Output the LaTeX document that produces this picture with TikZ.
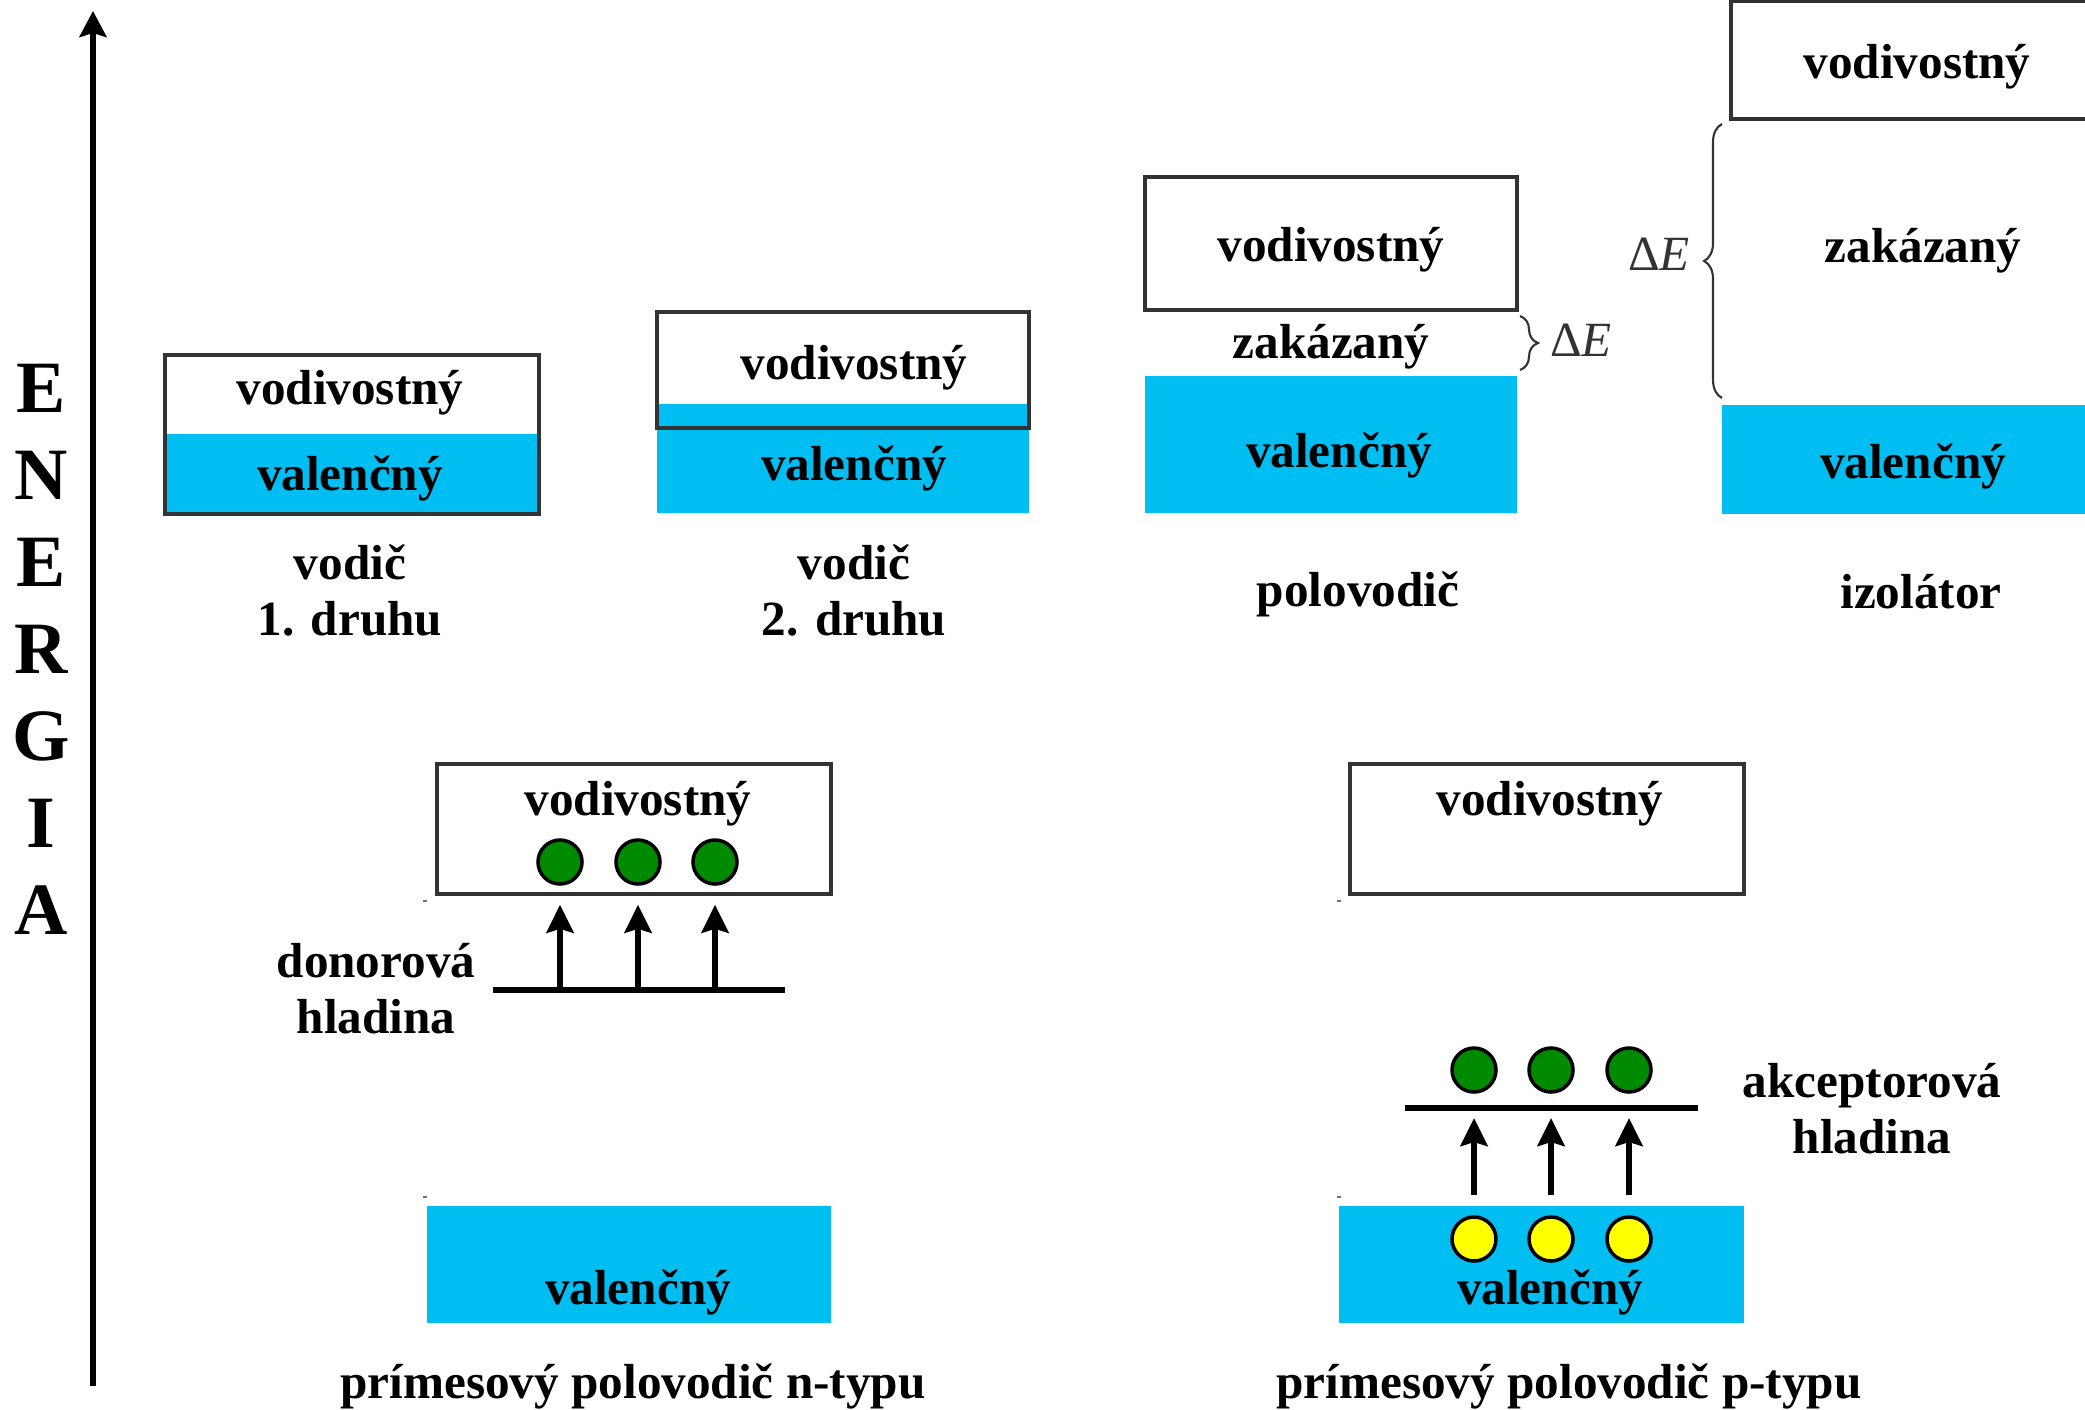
\documentclass[tikz,border=0pt]{standalone}
\usepackage{fontspec}
\setmainfont{Liberation Serif}
\usetikzlibrary{arrows.meta,decorations.pathreplacing}
\definecolor{vblue}{HTML}{00BDF2}
\definecolor{egreen}{HTML}{008A00}
\definecolor{hyellow}{HTML}{FFFF00}
\definecolor{frame}{HTML}{333333}

\begin{document}
\begin{tikzpicture}[
  lbl/.style={font=\fontsize{14}{16}\selectfont\bfseries, inner sep=0pt, align=center},
  big/.style={font=\fontsize{21}{24.75}\selectfont\bfseries, inner sep=0pt, align=center},
  delta/.style={font=\fontsize{14}{16}\selectfont, text=frame, inner sep=0pt},
  vband/.style={fill=vblue},
  cband/.style={draw=frame, line width=1pt},
  el/.style={circle, draw=black, line width=1pt, fill=egreen, minimum size=4.4mm, inner sep=0pt},
  hole/.style={el, fill=hyellow},
  uparr/.style={-{Stealth[width=2.7mm,length=2.8mm,inset=0.4mm]}, line width=1.7pt},
  dlevel/.style={line width=1.6pt},
  eaxis/.style={-{Stealth[width=2.7mm,length=2.6mm,inset=0.4mm]}, line width=1.6pt},
  brc/.style={decorate, decoration={brace, amplitude=1.8mm}, draw=frame, line width=0.6pt},
  speck/.style={fill=frame!70}]
  \useasboundingbox (0,0) rectangle (20.85,-14.09);
  % energy axis
  \coordinate (ax0) at (0.93,-13.86); \coordinate (ax1) at (0.93,-0.11);
  \draw[eaxis] (ax0) -- (ax1);
  \node[big] (energ) at (0.41,-6.49) {E\\N\\E\\R\\G\\I\\A};
  % vodic 1. druhu
  \fill[vband] (1.65,-4.34) rectangle (5.39,-5.14);
  \draw[cband] (1.65,-3.55) rectangle (5.39,-5.14);
  \node[lbl] (c1) at (3.50,-3.93) {vodivostný};
  \node[lbl] (v1) at (3.50,-4.785) {valenčný};
  \node[lbl] (t1) at (3.50,-5.905) {vodič\\1. druhu};
  % vodic 2. druhu
  \fill[vband] (6.57,-4.04) rectangle (10.29,-5.13);
  \draw[cband] (6.57,-3.12) rectangle (10.29,-4.28);
  \node[lbl] (c2) at (8.54,-3.675) {vodivostný};
  \node[lbl] (v2) at (8.54,-4.685) {valenčný};
  \node[lbl] (t2) at (8.54,-5.905) {vodič\\2. druhu};
  % polovodic
  \draw[cband] (11.45,-1.77) rectangle (15.17,-3.10);
  \node[lbl] (c3) at (13.31,-2.495) {vodivostný};
  \node[lbl] (z3) at (13.31,-3.465) {zakázaný};
  \fill[vband] (11.45,-3.76) rectangle (15.17,-5.13);
  \node[lbl] (v3) at (13.39,-4.555) {valenčný};
  \node[lbl] (t3) at (13.58,-5.94) {polovodič};
  \draw[brc] (15.20,-3.16) -- (15.20,-3.70);
  \node[delta] (de3) at (15.81,-3.40) {Δ\textit{E}};
  % izolator
  \draw[cband] (17.31,-0.015) rectangle (21.03,-1.19);
  \node[lbl] (c4) at (19.17,-0.665) {vodivostný};
  \node[lbl] (z4) at (19.23,-2.505) {zakázaný};
  \fill[vband] (17.22,-4.05) rectangle (20.94,-5.14);
  \node[lbl] (v4) at (19.13,-4.665) {valenčný};
  \node[lbl] (t4) at (19.21,-5.92) {izolátor};
  \draw[brc] (17.22,-3.98) -- (17.22,-1.24);
  \node[delta] (de4) at (16.59,-2.54) {Δ\textit{E}};
  % primesovy polovodic n-typu
  \draw[cband] (4.37,-7.64) rectangle (8.31,-8.94);
  \node[lbl] (cn) at (6.38,-8.035) {vodivostný};
  \node[el] (en1) at (5.60,-8.62) {}; \node[el] (en2) at (6.38,-8.62) {}; \node[el] (en3) at (7.15,-8.62) {};
  \coordinate (dnl) at (4.93,-9.90); \coordinate (dnr) at (7.85,-9.90);
  \draw[dlevel] (dnl) -- (dnr);
  \draw[uparr, shorten >=1.9mm] (en1 |- dnl) -- (en1);
  \draw[uparr, shorten >=1.9mm] (en2 |- dnl) -- (en2);
  \draw[uparr, shorten >=1.9mm] (en3 |- dnl) -- (en3);
  \node[lbl] (dn) at (3.76,-9.89) {donorová\\hladina};
  \fill[vband] (4.27,-12.06) rectangle (8.31,-13.23);
  \node[lbl] (vn) at (6.38,-12.925) {valenčný};
  \node[lbl] (tn) at (6.33,-13.86) {prímesový polovodič n-typu};
  \fill[speck] (4.23,-9.00) rectangle (4.27,-9.02); \fill[speck] (4.23,-11.96) rectangle (4.27,-11.98);
  % primesovy polovodic p-typu
  \draw[cband] (13.50,-7.64) rectangle (17.44,-8.94);
  \node[lbl] (cp) at (15.50,-8.035) {vodivostný};
  \node[el] (ep1) at (14.74,-10.70) {}; \node[el] (ep2) at (15.51,-10.70) {}; \node[el] (ep3) at (16.29,-10.70) {};
  \coordinate (apl) at (14.05,-11.08); \coordinate (apr) at (16.98,-11.08);
  \draw[dlevel] (apl) -- (apr);
  \fill[vband] (13.39,-12.06) rectangle (17.44,-13.23);
  \node[hole] (hp1) at (14.74,-12.39) {}; \node[hole] (hp2) at (15.51,-12.39) {}; \node[hole] (hp3) at (16.29,-12.39) {};
  \draw[uparr, shorten <=2mm, shorten >=1mm] (hp1) -- (hp1 |- apl);
  \draw[uparr, shorten <=2mm, shorten >=1mm] (hp2) -- (hp2 |- apl);
  \draw[uparr, shorten <=2mm, shorten >=1mm] (hp3) -- (hp3 |- apl);
  \node[lbl] (vp) at (15.50,-12.925) {valenčný};
  \node[lbl] (ap) at (18.72,-11.09) {akceptorová\\hladina};
  \node[lbl] (tp) at (15.69,-13.86) {prímesový polovodič p-typu};
  \fill[speck] (13.37,-9.00) rectangle (13.41,-9.02); \fill[speck] (13.37,-11.96) rectangle (13.41,-11.98);
\end{tikzpicture}
\end{document}
